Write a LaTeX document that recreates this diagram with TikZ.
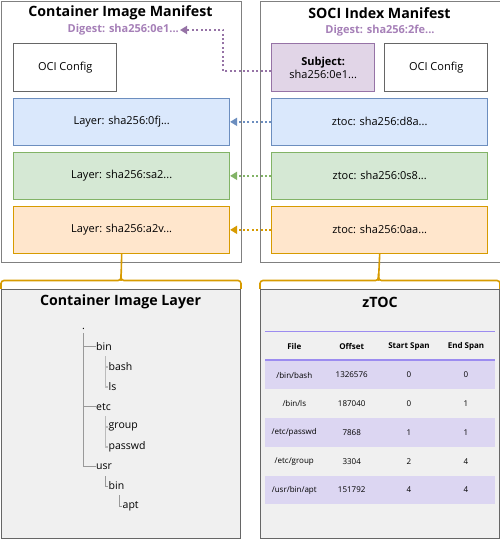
\documentclass[tikz,border=0pt]{standalone}
\usepackage{fontspec}
\setmainfont{Open Sans}
\usetikzlibrary{arrows.meta,calc}
\definecolor{purS}{HTML}{9673A6}
\definecolor{purF}{HTML}{E1D5E7}
\definecolor{bluS}{HTML}{6C8EBF}
\definecolor{bluF}{HTML}{DAE8FC}
\definecolor{grnS}{HTML}{82B366}
\definecolor{grnF}{HTML}{D5E8D4}
\definecolor{orgS}{HTML}{D79B00}
\definecolor{orgF}{HTML}{FFE6CC}
\definecolor{digC}{HTML}{A680B8}
\definecolor{outerC}{HTML}{808080}
\definecolor{panelF}{HTML}{F0F0F0}
\definecolor{panelS}{HTML}{666666}
\definecolor{tabL}{HTML}{9C8CF0}
\definecolor{rowF}{HTML}{DCD6F2}
\definecolor{treeA}{HTML}{999999}
\definecolor{treeB}{HTML}{BBBBBB}
\begin{document}
\begin{tikzpicture}[x=1pt,y=-1pt,
  outerbox/.style={draw=outerC,line width=1pt,fill=white,minimum width=240pt,minimum height=261pt,anchor=north west,inner sep=0pt},
  panel/.style={draw=panelS,line width=1pt,fill=panelF,minimum width=239pt,minimum height=249pt,anchor=north west,inner sep=0pt},
  title/.style={font=\fontsize{14.2}{16}\selectfont\bfseries},
  digest/.style={font=\fontsize{11}{12}\selectfont\bfseries,text=digC,inner sep=1pt},
  smallbox/.style={draw=panelS,line width=0.8pt,fill=white,minimum width=103pt,minimum height=48pt,anchor=north west,inner sep=0pt,font=\fontsize{11}{13}\selectfont,align=center},
  widebox/.style={line width=0.8pt,minimum width=216pt,minimum height=47.5pt,anchor=north west,inner sep=0pt,font=\fontsize{11}{13}\selectfont},
  dotarrow/.style={line width=2pt,dash pattern=on 2pt off 2.4pt,-{Triangle[width=8pt,length=7pt]}},
  brace/.style={draw=orgS,line width=1.6pt,rounded corners=3pt},
  treeitem/.style={anchor=west,inner sep=0.5pt,font=\fontsize{10.5}{12}\selectfont},
  treelineA/.style={draw=treeA,line width=1pt},
  treelineB/.style={draw=treeB,line width=1.6pt},
  th/.style={font=\fontsize{8}{9}\selectfont\bfseries},
  td/.style={font=\fontsize{8}{9}\selectfont}]
\useasboundingbox (0,0) rectangle (500,539);
% manifests
\node[outerbox] (cim) at (0.5,0.5) {};
\node[outerbox] (sim) at (259.5,0.5) {};
\node[title] (cimT) at (120.5,13) {Container Image Manifest};
\node[title] (simT) at (379.5,13) {SOCI Index Manifest};
\node[digest,anchor=east] (dig1) at (180,30) {Digest: sha256:0e1...};
\node[digest] (dig2) at (380,31) {Digest: sha256:2fe...};
% left content
\node[smallbox] (oci1) at (13.3,43.3) {OCI Config};
\node[widebox,draw=bluS,fill=bluF] (l1) at (13.3,97.7) {Layer: sha256:0fj...};
\node[widebox,draw=grnS,fill=grnF] (l2) at (13.3,151.7) {Layer: sha256:sa2...};
\node[widebox,draw=orgS,fill=orgF] (l3) at (13.3,205.7) {Layer: sha256:a2v...};
% right content
\node[smallbox,draw=purS,fill=purF] (subj) at (271.3,43.3) {\textbf{Subject:}\\sha256:0e1...};
\node[smallbox] (oci2) at (384.3,43.3) {OCI Config};
\node[widebox,draw=bluS,fill=bluF] (z1) at (271.3,97.7) {ztoc: sha256:d8a...};
\node[widebox,draw=grnS,fill=grnF] (z2) at (271.3,151.7) {ztoc: sha256:0s8...};
\node[widebox,draw=orgS,fill=orgF] (z3) at (271.3,205.7) {ztoc: sha256:0aa...};
% connectors
\draw[dotarrow,purS] ($(subj.west)+(0,3.5)$) -| (223.3,30) -- (dig1.east);
\draw[dotarrow,bluS] (z1.west) -- (l1.east);
\draw[dotarrow,grnS] (z2.west) -- (l2.east);
\draw[dotarrow,orgS] (z3.west) -- (l3.east);
% bottom panels
\node[panel] (cil) at (1,289.3) {};
\node[panel] (zt) at (260,289.3) {};
\node[title] (cilT) at (120.5,302) {Container Image Layer};
\node[title] (ztT) at (380,302) {zTOC};
% braces
\coordinate (bl) at (121,280.5);
\draw[brace] (l3.south) -- (bl);
\draw[brace] (cil.north west) ++(0,-0.5) -- ++(0,-8.3) -| (bl);
\draw[brace] (cil.north east) ++(0,-0.5) -- ++(0,-8.3) -| (bl);
\coordinate (br) at (378.5,280.5);
\draw[brace] (z3.south) -- (br);
\draw[brace] (zt.north west) ++(0,-0.5) -- ++(0,-8.3) -| (br);
\draw[brace] (zt.north east) ++(0,-0.5) -- ++(0,-8.3) -| (br);
% tree
\node[treeitem,anchor=base] (root) at (83.5,329) {.};
\node[treeitem] (tbin) at (95.5,346.7) {bin};
\node[treeitem] (tbash) at (108,366.7) {bash};
\node[treeitem] (tls) at (108,386.7) {ls};
\node[treeitem] (tetc) at (95.5,406.7) {etc};
\node[treeitem] (tgroup) at (108,426.7) {group};
\node[treeitem] (tpasswd) at (108,446.7) {passwd};
\node[treeitem] (tusr) at (95.5,466.7) {usr};
\node[treeitem] (tubin) at (108,486) {bin};
\node[treeitem] (tapt) at (122,506) {apt};
\draw[treelineA] (83.3,333) |- (tusr.west);
\draw[treelineA] (83.3,346.7) -- (tbin.west);
\draw[treelineA] (83.3,406.7) -- (tetc.west);
\draw[treelineB] (105.3,356) |- (tls.west);
\draw[treelineB] (105.3,366.7) -- (tbash.west);
\draw[treelineB] (105.3,416) |- (tpasswd.west);
\draw[treelineB] (105.3,426.7) -- (tgroup.west);
\draw[treelineA] (105.3,476) |- (tubin.west);
\draw[treelineA] (119.3,495) |- (tapt.west);
% table
\fill[rowF] (265,360) rectangle (495,389);
\fill[rowF] (265,417.7) rectangle (495,446.5);
\fill[rowF] (265,475.5) rectangle (495,504.2);
\draw[tabL,line width=1.5pt] (265,331.7) -- (495,331.7);
\draw[tabL,line width=1.2pt] (265,360) -- (495,360);
\node[th] (h1) at (294.3,346.2) {File};
\node[th] (h2) at (351.7,346.2) {Offset};
\node[th] (h3) at (409,346.2) {Start Span};
\node[th] (h4) at (466,346.2) {End Span};
\foreach \f/\o/\s/\e [count=\i] in {{/bin/bash}/1326576/0/0,{/bin/ls}/187040/0/1,{/etc/passwd}/7868/1/1,{/etc/group}/3304/2/4,{/usr/bin/apt}/151792/4/4}{
  \pgfmathsetmacro{\yy}{375+(\i-1)*28.75}
  \node[td] (r\i a) at (294.3,\yy) {\f};
  \node[td] (r\i b) at (351.7,\yy) {\o};
  \node[td] (r\i c) at (409,\yy) {\s};
  \node[td] (r\i d) at (466,\yy) {\e};
}
\end{tikzpicture}
\end{document}
